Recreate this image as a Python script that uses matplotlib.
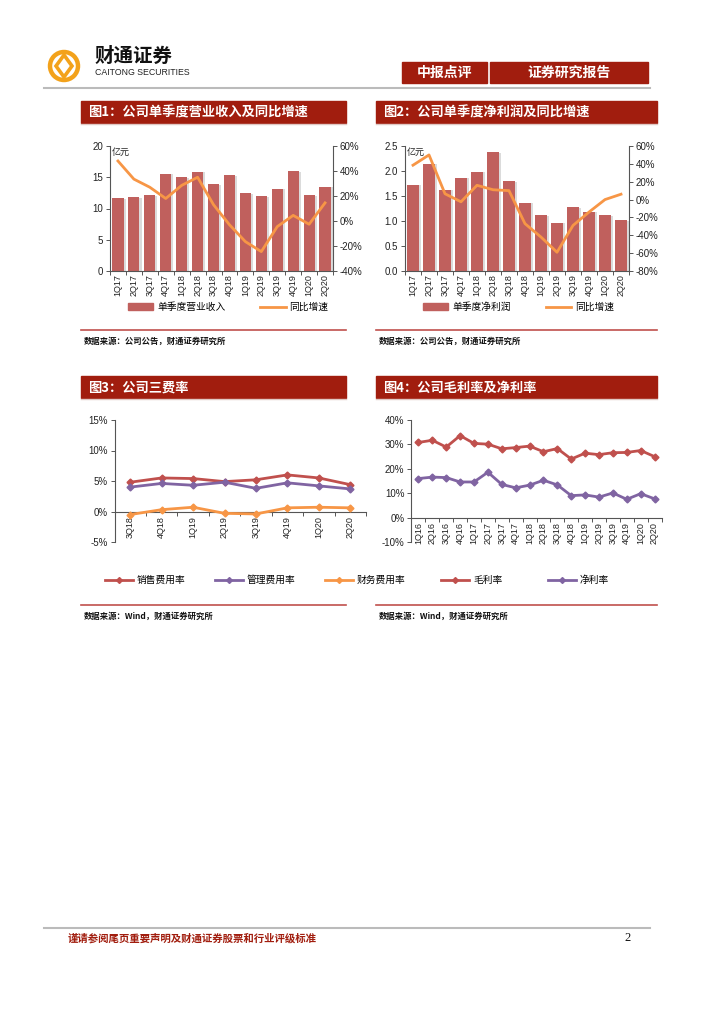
import matplotlib
matplotlib.use("Agg")
import matplotlib.pyplot as plt
import matplotlib.patches as mpatches
import matplotlib.patheffects as pe
from matplotlib.lines import Line2D
import numpy as np

plt.rcParams['font.family'] = ['Liberation Sans', 'Noto Sans CJK SC', 'DejaVu Sans']
plt.rcParams['axes.unicode_minus'] = False

# ---------------- data ----------------
q1 = ['1Q17', '2Q17', '3Q17', '4Q17', '1Q18', '2Q18', '3Q18', '4Q18',
      '1Q19', '2Q19', '3Q19', '4Q19', '1Q20', '2Q20']
revenue = [11.65, 11.8, 12.1, 15.6, 15.0, 15.9, 13.9, 15.3, 12.5, 12.0, 13.2, 16.0, 12.1, 13.5]
revenue_yoy = [48, 33.5, 27, 18, 28.5, 35, 13, -3, -16.5, -24.5, -4.5, 4.5, -2.6, 14.5]

net_profit = [1.73, 2.15, 1.63, 1.87, 1.99, 2.38, 1.80, 1.37, 1.12, 0.97, 1.28, 1.19, 1.12, 1.02]
profit_yoy = [38.5, 50, 6.5, -2.5, 16, 11, 10, -27, -42, -59, -29, -14, 0, 6]

q3 = ['3Q18', '4Q18', '1Q19', '2Q19', '3Q19', '4Q19', '1Q20', '2Q20']
sales_rate = [4.8, 5.5, 5.4, 4.9, 5.2, 6.0, 5.5, 4.4]
admin_rate = [4.0, 4.6, 4.3, 4.8, 3.8, 4.7, 4.2, 3.7]
fin_rate = [-0.5, 0.3, 0.7, -0.3, -0.4, 0.6, 0.7, 0.6]

q4 = ['1Q16', '2Q16', '3Q16', '4Q16', '1Q17', '2Q17', '3Q17', '4Q17', '1Q18',
      '2Q18', '3Q18', '4Q18', '1Q19', '2Q19', '3Q19', '4Q19', '1Q20', '2Q20']
gross_margin = [30.8, 31.7, 28.9, 33.6, 30.4, 30.1, 28.2, 28.7, 29.3, 27.0, 28.3,
                24.0, 26.4, 25.8, 26.6, 26.7, 27.5, 25.0]
net_margin = [16.0, 16.6, 16.4, 14.6, 14.6, 18.6, 13.6, 12.2, 13.3, 15.3, 13.4,
              9.0, 9.3, 8.4, 10.1, 7.5, 9.8, 7.7]

# ---------------- styles ----------------
W, H = 724, 1024
DARKRED = '#A11D0E'
BAR = '#C0605D'
ORANGE = '#F79646'
RED = '#C0504D'
PURPLE = '#8064A2'
CJK = ['Noto Sans CJK SC', 'DejaVu Sans']

fig = plt.figure(figsize=(W / 100, H / 100), dpi=100)

# overlay axes in pixel coordinates for decorations
deco = fig.add_axes([0, 0, 1, 1], zorder=0)
deco.set_xlim(0, W)
deco.set_ylim(H, 0)
deco.axis('off')


def pax(x0, y0, x1, y1):
    return fig.add_axes([x0 / W, 1 - y1 / H, (x1 - x0) / W, (y1 - y0) / H])


# ---------------- header ----------------
# logo
deco.add_patch(mpatches.Circle((64, 66), 14, fill=False, ec='#F3A21B', lw=3.2))
deco.add_patch(mpatches.Polygon([(64, 55), (72, 66), (64, 77), (56, 66)], closed=True,
                                fill=False, ec='#F3A21B', lw=2.6))
deco.text(95, 66, '财通证券', fontsize=14, fontweight='bold', family=CJK, va='bottom', ha='left', color='#111111')
deco.text(95, 77, 'CAITONG SECURITIES', fontsize=6.3, va='bottom', ha='left', color='#222222')
deco.add_patch(mpatches.Rectangle((402, 62), 85, 21, color=DARKRED))
deco.add_patch(mpatches.Rectangle((490, 62), 158, 21, color=DARKRED))
deco.text(444.5, 72.5, '中报点评', fontsize=10, family=CJK, color='white', ha='center', va='center', fontweight='bold')
deco.text(569, 72.5, '证券研究报告', fontsize=10, family=CJK, color='white', ha='center', va='center', fontweight='bold')
deco.plot([44, 650], [88, 88], color='#BBBBBB', lw=1.5)

# title bars
for (x0, x1, y0, t) in [(81, 346, 101, '图1：公司单季度营业收入及同比增速'),
                        (376, 657, 101, '图2：公司单季度净利润及同比增速'),
                        (81, 346, 376, '图3：公司三费率'),
                        (376, 657, 376, '图4：公司毛利率及净利率')]:
    deco.add_patch(mpatches.Rectangle((x0, y0), x1 - x0, 22, color=DARKRED))
    deco.plot([x0, x1], [y0 + 23, y0 + 23], color='#E0C8C4', lw=1)
    deco.text(x0 + 7, y0 + 11.5, t, fontsize=9.5, family=CJK, color='white', ha='left', va='center',
              fontweight='bold')

# source lines
for (x0, x1, y) in [(81, 346, 330), (376, 657, 330), (81, 346, 605), (376, 657, 605)]:
    deco.plot([x0, x1], [y, y], color='#C0504D', lw=1.2)
for (x, y, t) in [(84, 341, '数据来源：公司公告，财通证券研究所'),
                  (379, 341, '数据来源：公司公告，财通证券研究所'),
                  (84, 616, '数据来源：Wind，财通证券研究所'),
                  (379, 616, '数据来源：Wind，财通证券研究所')]:
    deco.text(x, y, t, fontsize=6, family=CJK, fontweight='bold', ha='left', va='center', color='#111111')

# footer
deco.plot([44, 650], [928, 928], color='#BBBBBB', lw=1.5)
deco.text(68, 938, '谨请参阅尾页重要声明及财通证券股票和行业评级标准', fontsize=7.5, family=CJK,
          color=DARKRED, ha='left', va='center', fontweight='bold')
deco.text(628, 938, '2', fontsize=9, family=['Liberation Serif'], ha='center', va='center', color='#111111')


def style_left(ax):
    ax.spines['top'].set_visible(False)
    ax.spines['right'].set_visible(False)
    for s in ['left', 'bottom']:
        ax.spines[s].set_color('#555555')
        ax.spines[s].set_linewidth(0.8)
    ax.tick_params(axis='y', labelsize=7, length=3, width=0.7, colors='#555555', labelcolor='#222222', pad=2)
    ax.tick_params(axis='x', labelsize=6.5, length=0, pad=2, labelcolor='#222222')


def cat_ticks(ax, n, labels):
    ax.set_xticks(np.arange(n))
    ax.set_xticklabels(labels, rotation=90)
    ax.set_xticks(np.arange(n + 1) - 0.5, minor=True)
    ax.tick_params(axis='x', which='minor', length=3, width=0.7, color='#555555', direction='out')
    ax.set_xlim(-0.5, n - 0.5)


shadow = [pe.SimplePatchShadow(offset=(1.5, -0.5), shadow_rgbFace='#999999', alpha=0.35), pe.Normal()]


def bar_chart(box, labels, vals, yoy, ylim, yticks, yfmt, rlim, rticks, leg1, leg_x):
    ax = pax(*box)
    style_left(ax)
    n = len(labels)
    x = np.arange(n)
    bars = ax.bar(x, vals, width=0.7, color=BAR, zorder=2)
    for b in bars:
        b.set_path_effects(shadow)
    ax.set_ylim(*ylim)
    ax.set_yticks(yticks)
    ax.set_yticklabels([yfmt(v) for v in yticks])
    cat_ticks(ax, n, labels)
    ax.text(0.01, 0.985, '亿元', transform=ax.transAxes, fontsize=6.5, family=CJK, ha='left', va='top',
            color='#222222')
    ax2 = ax.twinx()
    ax2.plot(x, yoy, color=ORANGE, lw=2, zorder=3)
    ax2.set_ylim(*rlim)
    ax2.set_yticks(rticks)
    ax2.set_yticklabels([f'{v}%' for v in rticks])
    for s in ['top', 'left', 'bottom']:
        ax2.spines[s].set_visible(False)
    ax2.spines['right'].set_color('#555555')
    ax2.spines['right'].set_linewidth(0.8)
    ax2.tick_params(axis='y', labelsize=7, length=3, width=0.7, colors='#555555', labelcolor='#222222', pad=2)
    h1 = mpatches.Patch(color=BAR)
    h2 = Line2D([], [], color=ORANGE, lw=2)
    ax.legend([h1, h2], [leg1, '同比增速'], loc='center left', bbox_to_anchor=(leg_x / W, 1 - 307 / H),
              bbox_transform=fig.transFigure, ncol=2, frameon=False, prop={'family': CJK, 'size': 7},
              handlelength=2.6, handleheight=0.6, columnspacing=3.6, handletextpad=0.4, borderaxespad=0)
    return ax


bar_chart((110, 146, 333, 271), q1, revenue, revenue_yoy, (0, 20), [0, 5, 10, 15, 20], lambda v: f'{v:g}',
          (-40, 60), [-40, -20, 0, 20, 40, 60], '单季度营业收入', 124)
bar_chart((405, 146, 629, 271), q1, net_profit, profit_yoy, (0, 2.5), [0, 0.5, 1.0, 1.5, 2.0, 2.5],
          lambda v: f'{v:.1f}', (-80, 60), [-80, -60, -40, -20, 0, 20, 40, 60], '单季度净利润', 419)


def line_chart(box, labels, series, ylim, yticks, leg_x, colspace):
    ax = pax(*box)
    style_left(ax)
    n = len(labels)
    x = np.arange(n)
    handles = []
    names = []
    for vals, color, name in series:
        ax.plot(x, vals, color=color, lw=2, marker='D', ms=3.5, zorder=3)
        handles.append(Line2D([], [], color=color, lw=2, marker='D', ms=3, markevery=[1]))
        names.append(name)
    ax.set_ylim(*ylim)
    ax.set_yticks(yticks)
    ax.set_yticklabels([f'{v}%' for v in yticks])
    ax.spines['bottom'].set_position(('data', 0))
    cat_ticks(ax, n, labels)
    ax.tick_params(axis='x', pad=3)
    ax.legend(handles, names, loc='center left', bbox_to_anchor=(leg_x / W, 1 - 580 / H),
              bbox_transform=fig.transFigure, ncol=len(series), frameon=False, prop={'family': CJK, 'size': 7},
              handlelength=2.9, columnspacing=colspace, handletextpad=0.4, borderaxespad=0)
    return ax


line_chart((114.5, 420, 366, 542), q3,
           [(sales_rate, RED, '销售费用率'), (admin_rate, PURPLE, '管理费用率'), (fin_rate, ORANGE, '财务费用率')],
           (-5, 15), [-5, 0, 5, 10, 15], 101, 3.0)
line_chart((411.5, 420, 661.5, 542), q4,
           [(gross_margin, RED, '毛利率'), (net_margin, PURPLE, '净利率')],
           (-10, 40), [-10, 0, 10, 20, 30, 40], 437, 4.7)

fig.savefig('out.png', dpi=100)
